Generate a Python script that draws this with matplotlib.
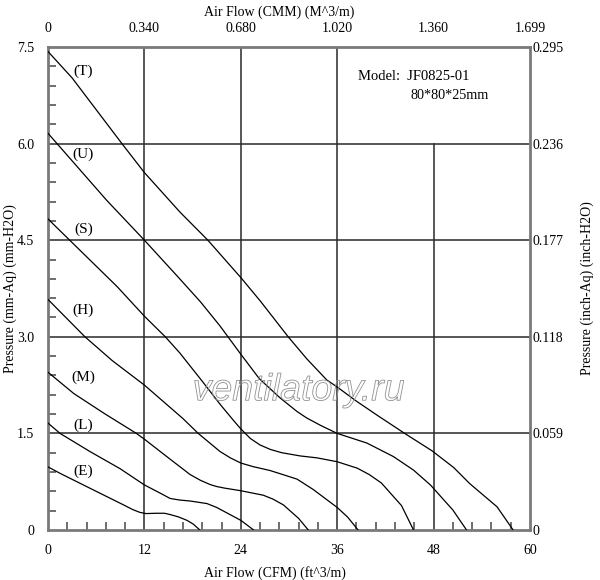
import numpy as np
import matplotlib.pyplot as plt
import matplotlib.patheffects as pe

plt.rcParams['font.family'] = ['Liberation Serif', 'DejaVu Serif']
plt.rcParams['font.size'] = 10

# axis ticks (CFM / mm-Aq) and their secondary labels
cfm_ticks = [0, 12, 24, 36, 48, 60]
cmm_labels = ['0', '0.340', '0.680', '1.020', '1.360', '1.699']
mm_ticks = [0, 1.5, 3.0, 4.5, 6.0, 7.5]
mm_labels = ['0', '1.5', '3.0', '4.5', '6.0', '7.5']
inch_labels = ['0', '0.059', '0.118', '0.177', '0.236', '0.295']

# fan curves: airflow (CFM) vs static pressure (mm-Aq)
T_x = [0, 3, 9.2, 12, 16.4, 19.9, 24.0, 26.4, 29.9, 32.2, 34.7, 36, 38.4, 41, 44.4, 47.8, 50.5, 52.5, 55.9, 57.9]
T_y = [7.43, 7.02, 6.0, 5.55, 4.94, 4.5, 3.92, 3.56, 3.0, 2.66, 2.33, 2.22, 2.0, 1.78, 1.5, 1.23, 0.97, 0.72, 0.36, 0]

U_x = [0, 7.3, 12, 16.4, 19, 21.4, 24, 26.3, 28.9, 31, 32.2, 34, 36, 39.7, 43, 45.5, 47.6, 50.4, 52.1]
U_y = [6.16, 5.12, 4.5, 3.9, 3.54, 3.17, 2.73, 2.35, 2.05, 1.84, 1.74, 1.62, 1.5, 1.35, 1.14, 0.93, 0.70, 0.31, 0]

S_x = [0, 2.7, 8.6, 12, 14.6, 16.4, 19.2, 21.5, 23.1, 24, 25.2, 26.4, 27.7, 29.1, 31.4, 33.5, 36, 38.5, 40, 41.5, 43, 44, 45.5]
S_y = [4.83, 4.5, 3.78, 3.32, 3.0, 2.75, 2.31, 1.94, 1.70, 1.57, 1.42, 1.32, 1.25, 1.2, 1.15, 1.12, 1.06, 0.96, 0.86, 0.73, 0.52, 0.38, 0]

H_x = [0, 4.6, 8, 12, 15.6, 16.8, 18.7, 21.4, 22.7, 24, 25.5, 27.6, 29, 31, 33, 34.5, 36, 37.3, 38.6]
H_y = [3.58, 3.0, 2.63, 2.25, 1.86, 1.73, 1.5, 1.22, 1.12, 1.04, 0.985, 0.925, 0.87, 0.79, 0.63, 0.49, 0.35, 0.2, 0]

M_x = [0, 3.2, 7, 11, 12, 15.2, 17.7, 19, 20.2, 21, 22, 24, 26.8, 28, 29.3, 31.2, 32.4]
M_y = [2.45, 2.12, 1.81, 1.5, 1.41, 1.10, 0.86, 0.77, 0.705, 0.675, 0.65, 0.61, 0.54, 0.48, 0.39, 0.18, 0]

L_x = [0, 1.5, 5.2, 9, 12, 14, 15.2, 16.4, 17.7, 19.8, 21, 22.2, 24, 25.6]
L_y = [1.66, 1.5, 1.22, 0.95, 0.70, 0.57, 0.49, 0.465, 0.45, 0.41, 0.35, 0.27, 0.15, 0]

E_x = [0, 1.5, 5.2, 9.4, 10.5, 11.4, 12.2, 13.5, 14.5, 15.2, 16.2, 17.3, 18.1, 18.9]
E_y = [0.98, 0.88, 0.65, 0.39, 0.32, 0.275, 0.255, 0.26, 0.26, 0.24, 0.205, 0.15, 0.09, 0]

curves = [(T_x, T_y), (U_x, U_y), (S_x, S_y), (H_x, H_y), (M_x, M_y), (L_x, L_y), (E_x, E_y)]
curve_names = ['(T)', '(U)', '(S)', '(H)', '(M)', '(L)', '(E)']
name_y = [7.13, 5.84, 4.67, 3.41, 2.37, 1.63, 0.91]

fig = plt.figure(figsize=(6, 5.8), dpi=100)
ax = fig.add_axes([48 / 600, 50 / 580, 482 / 600, 483 / 580])
ax.set_xlim(0, 60)
ax.set_ylim(0, 7.5)

# grid: the 48 CFM line stops at 6.0 to leave room for the model box
grid_c = '#2a2a2a'
for v in cfm_ticks[1:-1]:
    top = 6.0 / 7.5 if v == 48 else 1
    ax.axvline(v, ymax=top, color=grid_c, lw=1.1, zorder=1)
for h in mm_ticks[1:-1]:
    ax.axhline(h, color=grid_c, lw=1.1, zorder=1)

for (xs, ys) in curves:
    ax.plot(xs, ys, color='black', lw=0.9, zorder=3, solid_joinstyle='round')

for name, yy in zip(curve_names, name_y):
    ax.text(4.4, yy, name, ha='center', va='center', fontsize=11)

ax.text(38.6, 7.04, 'Model:  JF0825-01', ha='left', va='center', fontsize=10.5)
ax.text(45.1, 6.75, '80*80*25mm', ha='left', va='center', fontsize=10.2)

# hollow watermark
ax.text(31.2, 2.17, 'ventilatory.ru', ha='center', va='center', fontsize=27,
        family='Liberation Sans', style='italic', color='none', zorder=4,
        path_effects=[pe.Stroke(linewidth=0.6, foreground='#909090')])

ax.set_xticks(cfm_ticks, cfm_ticks)
ax.set_yticks(mm_ticks, mm_labels)
ax.set_xticks(np.arange(0, 60.1, 2.4), minor=True)
ax.set_yticks(np.arange(0, 7.51, 0.3), minor=True)
ax.tick_params(which='major', length=0)
ax.tick_params(axis='x', which='major', pad=10)
ax.tick_params(axis='y', which='major', pad=10)
ax.tick_params(which='minor', direction='in', length=6, width=1.2, color='#555555',
               top=True, right=True)
for s in ax.spines.values():
    s.set_color('#7a7a7a')
    s.set_linewidth(2)

axt = ax.twiny()
axt.set_xlim(0, 60)
axt.set_xticks(cfm_ticks, cmm_labels)
axt.tick_params(length=0, pad=9)
axr = ax.twinx()
axr.set_ylim(0, 7.5)
axr.set_yticks(mm_ticks, inch_labels)
axr.tick_params(length=0, pad=2)
for a in (axt, axr):
    for s in a.spines.values():
        s.set_visible(False)

ax.set_xlabel('Air Flow (CFM) (ft^3/m)', fontsize=10)
ax.xaxis.set_label_coords(0.47, -36 / 483)
axt.set_xlabel('Air Flow (CMM) (M^3/m)', fontsize=10)
axt.xaxis.set_label_coords(0.48, 1 + 31 / 483)
ax.set_ylabel('Pressure (mm-Aq) (mm-H2O)', fontsize=10)
ax.yaxis.set_label_coords(-31 / 482, 0.5)
axr.set_ylabel('Pressure (inch-Aq) (inch-H2O)', fontsize=10, rotation=90)
axr.yaxis.set_label_coords(1 + 51 / 482, 0.5)

fig.savefig('out.png', dpi=100)
